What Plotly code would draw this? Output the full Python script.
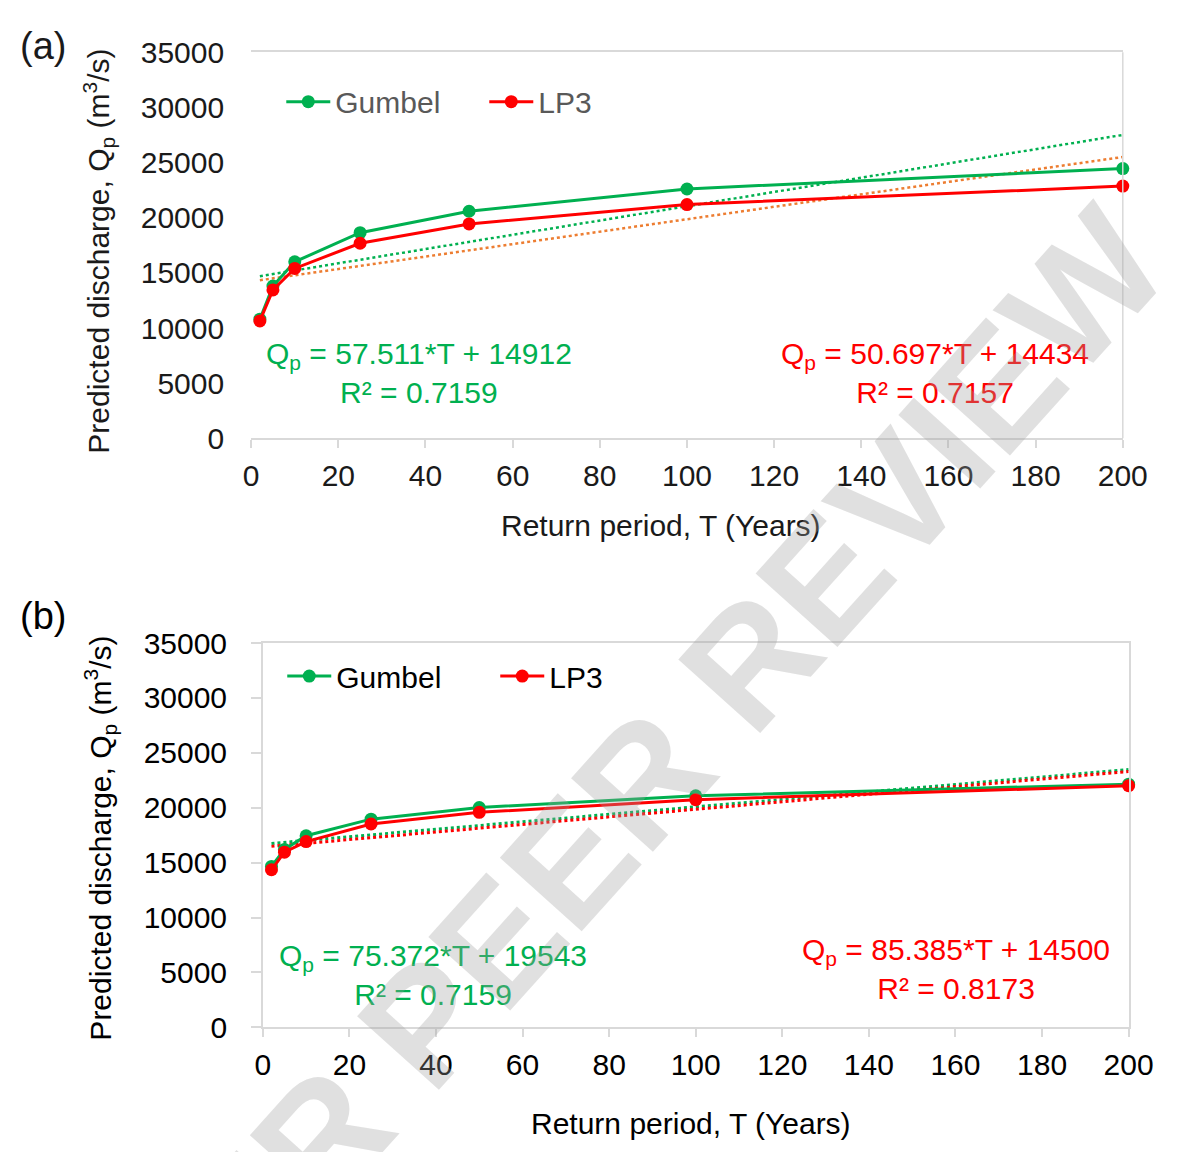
import plotly.graph_objects as go

# ---------------- data ----------------
T = [2, 5, 10, 25, 50, 100, 200]
gumbel_a = [10800, 13800, 16000, 18640, 20580, 22600, 24450]
lp3_a = [10640, 13450, 15400, 17680, 19430, 21190, 22860]
gumbel_b = [14650, 16200, 17450, 18960, 20020, 21090, 22150]
lp3_b = [14350, 15950, 16920, 18520, 19580, 20730, 22000]

trend_T = [2, 200]
trend_gumbel_a = [14700, 27500]
trend_lp3_a = [14330, 25500]
trend_gumbel_b = [16750, 23480]
trend_lp3_b = [16480, 23300]

x_ticks = [0, 20, 40, 60, 80, 100, 120, 140, 160, 180, 200]
y_ticks = [0, 5000, 10000, 15000, 20000, 25000, 30000, 35000]

eq_a_gumbel = "Q<sub>p</sub> = 57.511*T + 14912<br>R² = 0.7159"
eq_a_lp3 = "Q<sub>p</sub> = 50.697*T + 14434<br>R² = 0.7157"
eq_b_gumbel = "Q<sub>p</sub> = 75.372*T + 19543<br>R² = 0.7159"
eq_b_lp3 = "Q<sub>p</sub> = 85.385*T + 14500<br>R² = 0.8173"

GREEN = "#00B050"
RED = "#FF0000"
ORANGE = "#ED7D31"
AXIS = "#D9D9D9"
FONT = "Liberation Sans, Arial, sans-serif"

# page body keeps its default 8px margin; the figure fills the rest of the 1183x1160 window
OX, OY = 8, 8
W, H = 1183 - 2 * OX, 1160 - 2 * OY


def px(x):
    return (x - OX) / W


def py(y):
    return 1 - (y - OY) / H


fig = go.Figure()

# ---- panel (a) ----
fig.add_trace(go.Scatter(x=trend_T, y=trend_gumbel_a, mode="lines", xaxis="x", yaxis="y",
                         line=dict(color=GREEN, width=2.5, dash="dot"), showlegend=False, hoverinfo="skip"))
fig.add_trace(go.Scatter(x=trend_T, y=trend_lp3_a, mode="lines", xaxis="x", yaxis="y",
                         line=dict(color=ORANGE, width=2.5, dash="dot"), showlegend=False, hoverinfo="skip"))
fig.add_trace(go.Scatter(x=T, y=gumbel_a, mode="lines+markers", name="Gumbel", xaxis="x", yaxis="y",
                         line=dict(color=GREEN, width=3), marker=dict(color=GREEN, size=13),
                         cliponaxis=False, legend="legend"))
fig.add_trace(go.Scatter(x=T, y=lp3_a, mode="lines+markers", name="LP3", xaxis="x", yaxis="y",
                         line=dict(color=RED, width=3), marker=dict(color=RED, size=13),
                         cliponaxis=False, legend="legend"))

# ---- panel (b) ----
fig.add_trace(go.Scatter(x=trend_T, y=trend_gumbel_b, mode="lines", xaxis="x2", yaxis="y2",
                         line=dict(color=GREEN, width=3, dash="dot"), showlegend=False, hoverinfo="skip"))
fig.add_trace(go.Scatter(x=trend_T, y=trend_lp3_b, mode="lines", xaxis="x2", yaxis="y2",
                         line=dict(color=RED, width=3, dash="dot"), showlegend=False, hoverinfo="skip"))
fig.add_trace(go.Scatter(x=T, y=gumbel_b, mode="lines+markers", name="Gumbel", xaxis="x2", yaxis="y2",
                         line=dict(color=GREEN, width=3), marker=dict(color=GREEN, size=13),
                         cliponaxis=False, legend="legend2"))
fig.add_trace(go.Scatter(x=T, y=lp3_b, mode="lines+markers", name="LP3", xaxis="x2", yaxis="y2",
                         line=dict(color=RED, width=3), marker=dict(color=RED, size=13),
                         cliponaxis=False, legend="legend2"))


def xa(x0, x1, anchor, color):
    return dict(domain=[px(x0), px(x1)], anchor=anchor, range=[0, 200], tickvals=x_ticks, tickformat="d",
                showgrid=False, zeroline=False, showline=True, linecolor=AXIS, linewidth=1.5,
                mirror=True, ticks="outside", ticklen=8, tickcolor=AXIS, tickwidth=1.5,
                tickfont=dict(family=FONT, size=30, color=color), ticklabelstandoff=2)


fig.update_layout(
    width=W, height=H, margin=dict(l=0, r=0, t=0, b=0), autosize=False,
    paper_bgcolor="white", plot_bgcolor="white",
    font=dict(family=FONT, size=30, color="#000000"),
    xaxis=xa(250, 1147, "y", "#1a1a1a"),
    yaxis=dict(domain=[py(434), py(36)], anchor="x", range=[0, 35000], tickvals=y_ticks,
               tickformat="d",
               showgrid=False, zeroline=False, showline=False, ticks="",
               tickfont=dict(family=FONT, size=30, color="#1a1a1a"), ticklabelstandoff=26),
    xaxis2=xa(262, 1153, "y2", "#000000"),
    yaxis2=dict(domain=[py(1041), py(645)], anchor="x2", range=[0, 35000], tickvals=y_ticks,
                tickformat="d",
                showgrid=False, zeroline=False, showline=True, linecolor=AXIS, linewidth=1.5, mirror=True,
                ticks="outside", ticklen=10, tickcolor=AXIS, tickwidth=1.5,
                tickfont=dict(family=FONT, size=30, color="#000000"), ticklabelstandoff=18),
    legend=dict(orientation="h", x=px(281), y=py(87), xanchor="left", yanchor="middle",
                font=dict(family=FONT, size=30, color="#595959"), bgcolor="rgba(0,0,0,0)",
                itemwidth=44, entrywidth=144, entrywidthmode="pixels", tracegroupgap=0),
    legend2=dict(orientation="h", x=px(282), y=py(679), xanchor="left", yanchor="middle",
                 font=dict(family=FONT, size=30, color="#000000"), bgcolor="rgba(0,0,0,0)",
                 itemwidth=44, entrywidth=154, entrywidthmode="pixels", tracegroupgap=0),
    showlegend=True,
)

# right border of panel (a) plot area
fig.add_shape(type="line", xref="x domain", yref="y domain", x0=1, x1=1, y0=0, y1=1,
              line=dict(color=AXIS, width=1.5))


def ann(text, x, y, size=30, color="#000000", angle=0, **kw):
    fig.add_annotation(text=text, x=px(x), y=py(y), xref="paper", yref="paper",
                       showarrow=False, xanchor="center", yanchor="middle", align="center",
                       textangle=angle, font=dict(family=FONT, size=size, color=color), **kw)


# equations
ann(eq_a_gumbel, 423, 367, color=GREEN)
ann(eq_a_lp3, 954, 367, color=RED)
ann(eq_b_gumbel, 437, 987, color=GREEN)
ann(eq_b_lp3, 975, 981, color=RED)

# axis titles
ytitle = "Predicted discharge, Q<sub>p</sub> (m<sup>3</sup>/s)"
xtitle = "Return period, T (Years)"
ann(ytitle, 93, 241, angle=-90, color="#1a1a1a")
ann(xtitle, 672, 524, color="#1a1a1a")
ann(ytitle, 95, 846, angle=-90)
ann(xtitle, 703, 1140)

# panel labels
ann("(a)", 36, 30, size=38, color="#1a1a1a")
ann("(b)", 36, 617, size=38)

# watermark
fig.add_annotation(text="<b>UNDER PEER REVIEW</b>", x=px(565), y=py(885), xref="paper", yref="paper",
                   showarrow=False, xanchor="center", yanchor="middle", textangle=-48,
                   font=dict(family=FONT, size=160, color="rgba(160,160,160,0.32)"))

fig.write_html("out.html", config={"displayModeBar": False})
